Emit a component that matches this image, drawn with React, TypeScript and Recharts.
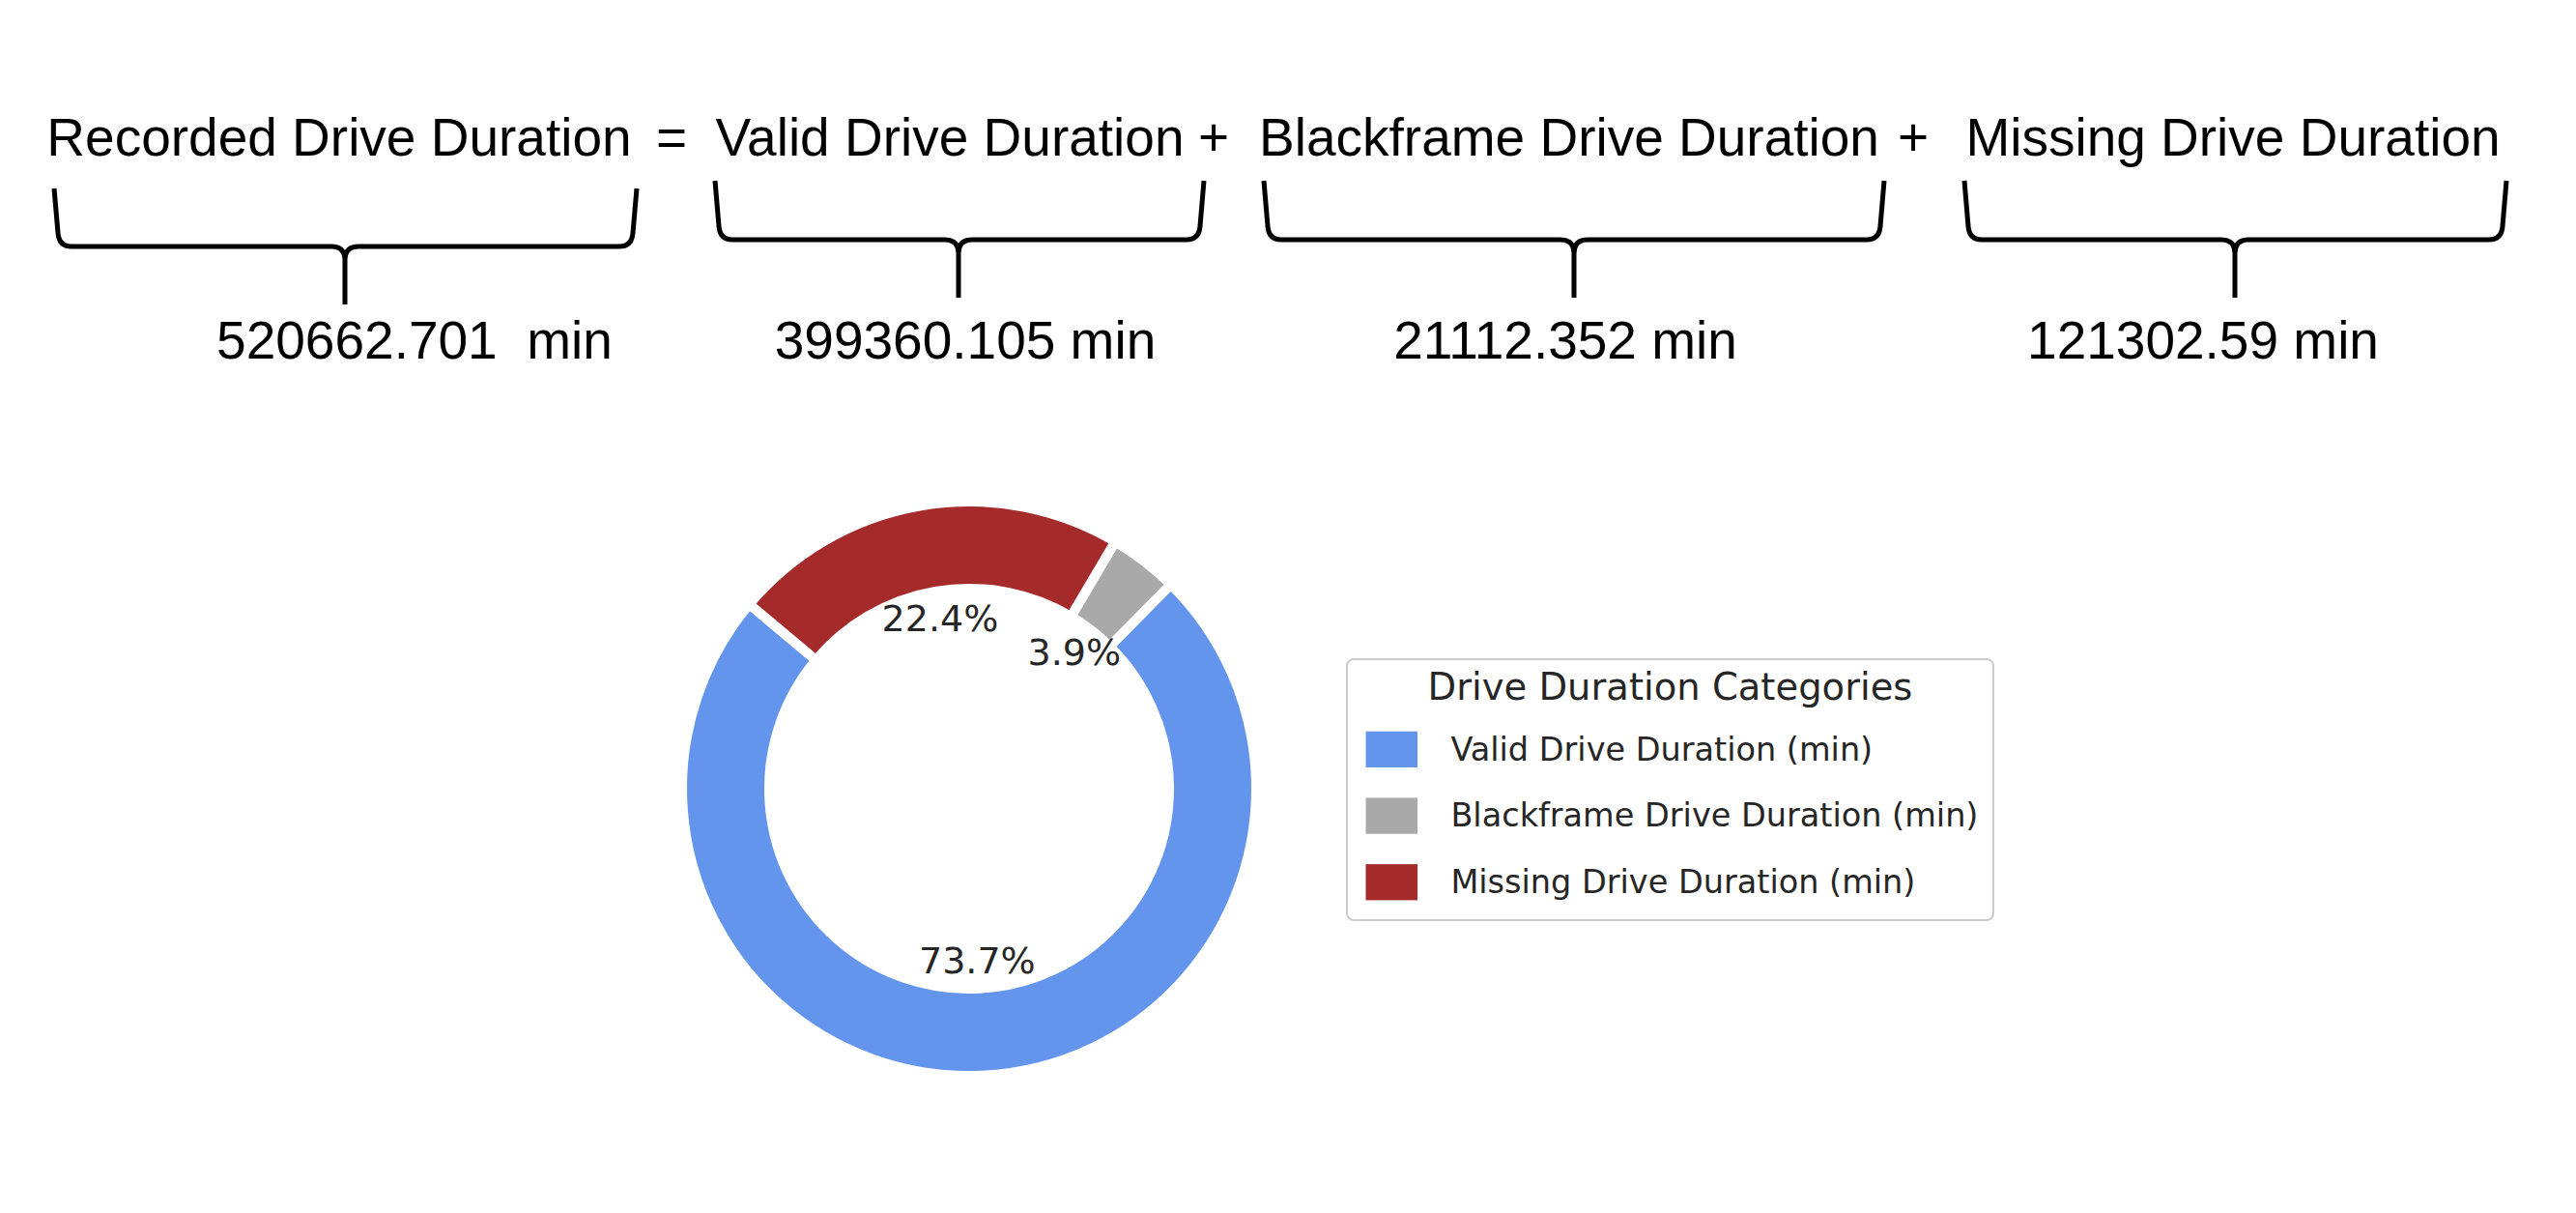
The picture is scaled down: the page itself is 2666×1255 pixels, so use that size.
import React from 'react';
import { PieChart, Pie, Cell, Legend, Customized } from 'recharts';

// pie data
const categories = ['Valid Drive Duration (min)', 'Blackframe Drive Duration (min)', 'Missing Drive Duration (min)'];
const durations = [399360.105, 21112.352, 121302.59];
const colors = ['#6495ED', '#A9A9A9', '#A52A2A'];
const legendTitle = 'Drive Duration Categories';

// equation header
const terms = ['Recorded Drive Duration', 'Valid Drive Duration', 'Blackframe Drive Duration', 'Missing Drive Duration'];
const operators = ['=', '+', '+'];
const totals = ['520662.701  min', '399360.105 min', '21112.352 min', '121302.59 min'];

const data = categories.map((name, i) => ({ name, value: durations[i], color: colors[i] }));

// header layout (px)
const termX = [351, 983, 1624, 2311];
const opX = [695, 1256, 1980];
const totalX = [429, 999, 1620, 2280];
const braces = [
  { l: 56, r: 659, tip: 357, top: 195, bar: 255, bottom: 315 },
  { l: 740, r: 1246, tip: 992, top: 187, bar: 248, bottom: 308 },
  { l: 1308, r: 1950, tip: 1629, top: 187, bar: 248, bottom: 308 },
  { l: 2033, r: 2594, tip: 2313, top: 187, bar: 248, bottom: 308 },
];

const HEAD_FONT = "'Liberation Sans', Arial, sans-serif";
const PLOT_FONT = "'DejaVu Sans', sans-serif";
const RAD = Math.PI / 180;

function bracePath(b: { l: number; r: number; tip: number; top: number; bar: number; bottom: number }) {
  const { l, r, tip, top, bar, bottom } = b;
  const c = 14;
  return (
    `M${l},${top} L${l + 4},${bar - c} Q${l + 5},${bar} ${l + c + 4},${bar} L${tip - c},${bar} ` +
    `Q${tip},${bar} ${tip},${bar + c} L${tip},${bottom} ` +
    `M${r},${top} L${r - 4},${bar - c} Q${r - 5},${bar} ${r - c - 4},${bar} L${tip + c},${bar} ` +
    `Q${tip},${bar} ${tip},${bar + c}`
  );
}

function Header() {
  return (
    <g>
      {terms.map((t, i) => (
        <text key={t} x={termX[i]} y={161} textAnchor="middle" fontFamily={HEAD_FONT} fontSize={55} fill="#000">
          {t}
        </text>
      ))}
      {operators.map((op, i) => (
        <text key={i} x={opX[i]} y={161} textAnchor="middle" fontFamily={HEAD_FONT} fontSize={55} fill="#000">
          {op}
        </text>
      ))}
      {braces.map((b, i) => (
        <path key={i} d={bracePath(b)} fill="none" stroke="#000" strokeWidth={5} strokeLinejoin="round" />
      ))}
      {totals.map((t, i) => (
        <text
          key={i}
          x={totalX[i]}
          y={371}
          textAnchor="middle"
          fontFamily={HEAD_FONT}
          fontSize={55}
          fill="#000"
          style={{ whiteSpace: 'pre' }}
        >
          {t}
        </text>
      ))}
    </g>
  );
}

const renderPct = (props: any) => {
  const { cx, cy, midAngle, outerRadius, percent } = props;
  const r = outerRadius * 0.6;
  const x = cx + r * Math.cos(-midAngle * RAD);
  const y = cy + r * Math.sin(-midAngle * RAD);
  return (
    <text x={x} y={y} textAnchor="middle" dominantBaseline="central" fontFamily={PLOT_FONT} fontSize={38} fill="#262626">
      {(percent * 100).toFixed(1)}%
    </text>
  );
};

const renderLegend = (props: any) => {
  // keep the data order (Valid, Blackframe, Missing)
  const payload = [...(props.payload ?? [])].sort(
    (a: any, b: any) => categories.indexOf(a.value) - categories.indexOf(b.value)
  );
  return (
    <svg width={671} height={272} style={{ display: 'block' }}>
      <rect x={1} y={1} width={669} height={270} rx={7} fill="#fff" stroke="#cccccc" strokeWidth={2} />
      <text x={335.5} y={43} textAnchor="middle" fontFamily={PLOT_FONT} fontSize={38.5} fill="#262626">
        {legendTitle}
      </text>
      {payload.map((entry: any, i: number) => (
        <g key={entry.value}>
          <rect x={20.5} y={75.7 + i * 68.7} width={53.5} height={37.3} fill={entry.color} />
          <text x={108.4} y={105.7 + i * 68.7} fontFamily={PLOT_FONT} fontSize={33.5} fill="#262626">
            {entry.value}
          </text>
        </g>
      ))}
    </svg>
  );
};

export default function App() {
  return (
    <div style={{ position: 'absolute', left: 0, top: 0, width: 2666, height: 1255, background: '#fff' }}>
      <PieChart width={2666} height={1255} margin={{ top: 0, right: 0, bottom: 0, left: 0 }}>
        <Customized component={Header} />
        <Pie
          data={data}
          dataKey="value"
          nameKey="name"
          cx={1003}
          cy={816}
          innerRadius={207}
          outerRadius={297}
          startAngle={140}
          endAngle={500}
          stroke="#ffffff"
          strokeWidth={10}
          label={renderPct}
          labelLine={false}
          isAnimationActive={false}
        >
          {data.map((d) => (
            <Cell key={d.name} fill={d.color} />
          ))}
        </Pie>
        <Legend
          layout="vertical"
          align="right"
          verticalAlign="top"
          itemSorter={(item: any) => categories.indexOf(item.value)}
          content={renderLegend}
          wrapperStyle={{ position: 'absolute', left: 1393, top: 681, width: 671, height: 272 }}
        />
      </PieChart>
    </div>
  );
}
